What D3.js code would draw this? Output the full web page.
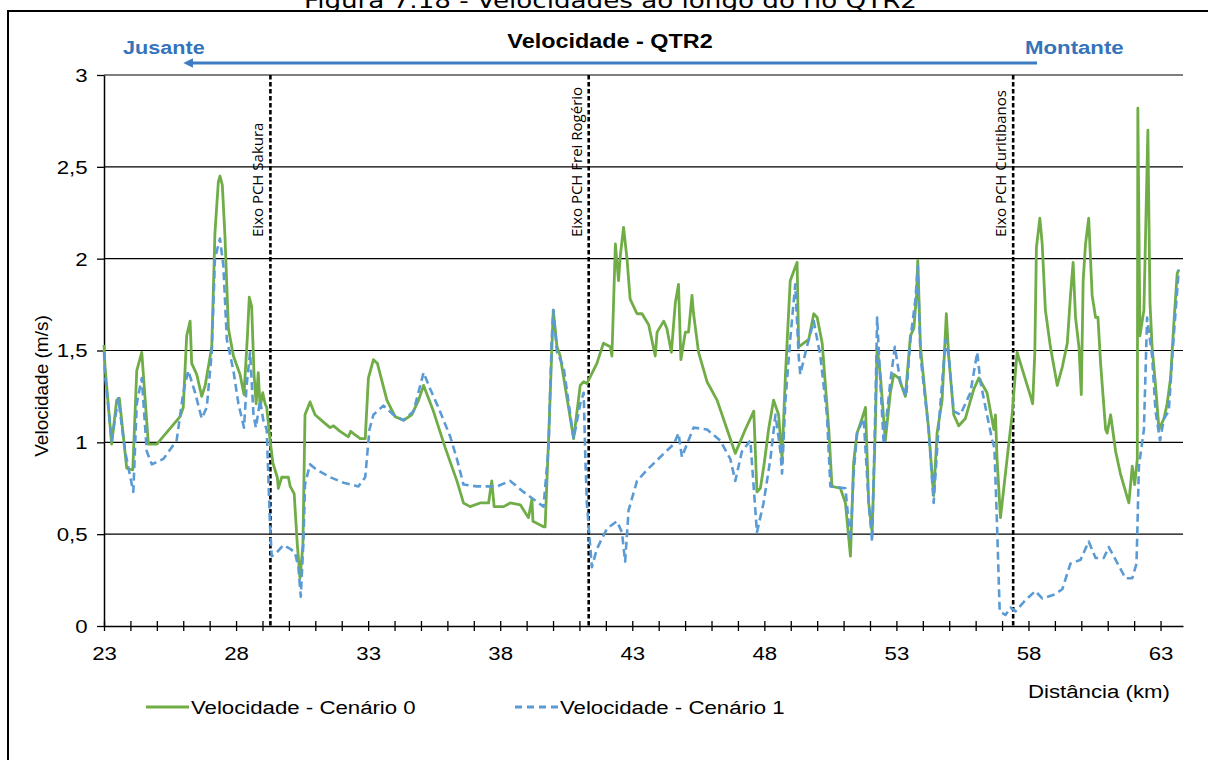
<!DOCTYPE html>
<html><head><meta charset="utf-8">
<script src="https://cdn.jsdelivr.net/npm/d3@7"></script>
<style>
html,body{margin:0;padding:0;background:#fff;}
svg{display:block;}
</style></head>
<body>
<svg id="chart" width="1208" height="760"></svg>
<script>
// ---------- data ----------
const caption = "Figura 7.18 - Velocidades ao longo do rio QTR2";
const chartTitle = "Velocidade - QTR2";
const seriesNames = ["Velocidade - Cenário 0", "Velocidade - Cenário 1"];
const yTickValues = [0, 0.5, 1, 1.5, 2, 2.5, 3];
const yTickLabels = ["0", "0,5", "1", "1,5", "2", "2,5", "3"];
const xTickValues = [23,24,25,26,27,28,29,30,31,32,33,34,35,36,37,38,39,40,41,42,43,44,45,46,47,48,49,50,51,52,53,54,55,56,57,58,59,60,61,62,63];
const xLabelValues = [23, 28, 33, 38, 43, 48, 53, 58, 63];
const damNames = ["Eixo PCH Sakura", "Eixo PCH Frei Rogério", "Eixo PCH Curitibanos"];
const damKm = [29.3, 41.35, 57.42];

const kmC0 = [23.00,23.04,23.29,23.48,23.58,23.86,24.09,24.24,24.43,24.68,25.00,25.88,26.00,26.13,26.26,26.32,26.51,26.70,26.83,27.08,27.20,27.33,27.39,27.48,27.58,27.71,27.90,28.15,28.30,28.43,28.50,28.59,28.68,28.76,28.84,28.91,29.01,29.10,29.16,29.29,29.39,29.56,29.60,29.73,29.98,30.05,30.20,30.32,30.42,30.53,30.61,30.80,30.99,31.31,31.56,31.69,31.94,32.25,32.34,32.51,32.70,32.89,33.01,33.20,33.35,33.71,34.02,34.34,34.65,34.91,35.10,35.47,35.92,36.36,36.61,36.86,37.24,37.56,37.68,37.77,38.13,38.38,38.76,39.07,39.20,39.24,39.64,39.70,39.83,39.95,40.01,40.15,40.27,40.78,41.03,41.16,41.28,41.66,41.91,42.17,42.23,42.36,42.48,42.55,42.67,42.80,42.92,43.18,43.37,43.62,43.87,43.94,44.19,44.31,44.48,44.63,44.75,44.84,45.01,45.13,45.26,45.32,45.51,45.83,46.21,46.59,46.90,47.28,47.60,47.72,47.85,48.00,48.16,48.35,48.54,48.67,48.80,48.98,49.24,49.30,49.49,49.68,49.87,50.00,50.19,50.44,50.56,50.88,51.07,51.26,51.38,51.51,51.70,51.83,51.95,52.08,52.20,52.27,52.39,52.58,52.77,52.90,53.09,53.34,53.53,53.66,53.76,53.81,53.91,54.22,54.41,54.54,54.73,54.89,54.98,55.17,55.36,55.61,55.93,56.12,56.43,56.69,56.75,56.81,56.94,57.19,57.38,57.51,57.57,57.76,58.08,58.16,58.24,58.30,58.43,58.52,58.64,58.83,59.09,59.28,59.47,59.59,59.69,59.78,59.91,60.00,60.07,60.16,60.28,60.41,60.54,60.63,60.73,60.92,60.98,61.11,61.30,61.48,61.80,61.93,62.02,62.12,62.14,62.22,62.37,62.52,62.60,62.68,62.81,62.94,63.13,63.25,63.38,63.50,63.63,63.69];
const velC0 = [1.53,1.41,0.99,1.23,1.24,0.86,0.85,1.39,1.49,0.99,0.99,1.14,1.19,1.58,1.66,1.43,1.37,1.25,1.31,1.52,2.14,2.42,2.45,2.40,2.12,1.62,1.47,1.37,1.26,1.58,1.79,1.74,1.37,1.21,1.38,1.19,1.27,1.21,1.19,1.01,0.89,0.81,0.75,0.81,0.81,0.76,0.72,0.44,0.26,0.44,1.15,1.22,1.15,1.11,1.08,1.09,1.06,1.03,1.06,1.04,1.02,1.02,1.35,1.45,1.43,1.23,1.14,1.12,1.15,1.23,1.31,1.17,0.97,0.79,0.67,0.65,0.67,0.67,0.79,0.65,0.65,0.67,0.66,0.59,0.69,0.57,0.54,0.54,1.01,1.49,1.72,1.52,1.47,1.02,1.31,1.33,1.32,1.43,1.54,1.52,1.47,2.08,1.88,2.02,2.17,2.00,1.78,1.70,1.70,1.64,1.47,1.60,1.66,1.62,1.49,1.76,1.86,1.45,1.60,1.60,1.80,1.70,1.49,1.33,1.23,1.07,0.94,1.07,1.17,0.73,0.75,0.89,1.07,1.23,1.15,0.91,1.37,1.88,1.98,1.52,1.54,1.56,1.70,1.68,1.54,1.07,0.76,0.75,0.67,0.38,0.89,1.05,1.13,1.19,0.67,0.51,1.07,1.52,1.37,1.01,1.27,1.37,1.35,1.25,1.58,1.62,1.80,1.99,1.52,1.07,0.71,1.05,1.23,1.70,1.47,1.15,1.09,1.13,1.29,1.35,1.27,1.07,1.15,0.91,0.59,0.91,1.15,1.39,1.49,1.40,1.25,1.21,1.49,2.06,2.22,2.08,1.72,1.52,1.31,1.41,1.54,1.80,1.98,1.68,1.52,1.26,1.88,2.08,2.22,1.80,1.68,1.68,1.43,1.07,1.05,1.15,0.95,0.83,0.67,0.87,0.77,0.91,2.82,1.58,1.72,2.70,1.76,1.52,1.31,1.07,1.13,1.21,1.35,1.64,1.92,1.94];

const kmC1 = [23.00,23.04,23.29,23.54,23.80,24.11,24.24,24.43,24.62,24.81,25.25,25.75,26.00,26.19,26.45,26.70,26.89,27.08,27.20,27.39,27.52,27.65,27.90,28.09,28.30,28.40,28.53,28.66,28.75,28.91,29.03,29.16,29.29,29.35,29.54,29.79,30.05,30.23,30.36,30.45,30.55,30.61,30.80,31.06,31.56,32.07,32.63,32.89,33.05,33.20,33.58,33.96,34.34,34.72,35.10,35.35,35.66,36.11,36.36,36.61,37.12,37.87,38.38,38.88,39.26,39.64,39.83,39.95,40.01,40.15,40.40,40.78,41.03,41.16,41.22,41.28,41.47,41.66,42.04,42.42,42.61,42.73,42.86,43.18,43.56,44.06,44.57,44.75,44.88,45.07,45.32,45.83,46.33,46.71,46.90,47.15,47.47,47.72,47.97,48.23,48.42,48.61,48.67,48.80,48.98,49.17,49.30,49.36,49.61,49.87,50.12,50.37,50.50,51.07,51.26,51.38,51.51,51.76,51.95,52.08,52.20,52.27,52.39,52.52,52.77,52.94,53.15,53.37,53.53,53.72,53.81,53.91,54.22,54.41,54.60,54.86,54.98,55.17,55.42,55.80,56.06,56.18,56.43,56.63,56.71,56.81,56.91,57.13,57.32,57.51,57.88,58.26,58.52,58.96,59.28,59.59,59.97,60.28,60.54,60.85,61.04,61.30,61.67,61.93,62.09,62.12,62.18,62.37,62.49,62.68,62.81,62.98,63.13,63.31,63.50,63.69];
const velC1 = [1.49,1.37,1.01,1.24,0.95,0.73,1.21,1.35,0.95,0.88,0.91,1.01,1.27,1.39,1.27,1.13,1.19,1.49,2.00,2.11,1.96,1.56,1.39,1.21,1.08,1.31,1.49,1.15,1.08,1.23,1.12,1.07,0.53,0.38,0.40,0.44,0.42,0.40,0.32,0.16,0.46,0.77,0.88,0.85,0.81,0.78,0.76,0.81,1.07,1.15,1.20,1.15,1.12,1.17,1.38,1.29,1.19,1.03,0.91,0.77,0.76,0.76,0.79,0.73,0.69,0.65,0.97,1.56,1.72,1.49,1.41,1.02,1.21,1.27,0.93,0.67,0.32,0.42,0.53,0.57,0.51,0.35,0.63,0.79,0.85,0.92,0.99,1.05,0.92,0.99,1.08,1.07,1.01,0.91,0.79,0.95,1.01,0.51,0.67,0.91,1.15,0.95,0.83,1.23,1.56,1.86,1.47,1.37,1.52,1.66,1.47,1.15,0.76,0.75,0.46,0.83,1.05,1.13,0.67,0.46,1.17,1.68,1.33,0.99,1.33,1.52,1.33,1.25,1.56,1.78,1.96,1.47,1.07,0.67,1.09,1.56,1.47,1.17,1.15,1.27,1.49,1.33,1.15,1.01,0.97,0.55,0.08,0.06,0.10,0.08,0.14,0.19,0.15,0.17,0.20,0.34,0.36,0.46,0.37,0.37,0.43,0.36,0.26,0.26,0.34,0.51,0.87,1.07,1.68,1.47,1.17,1.01,1.13,1.17,1.58,1.94];

// ---------- drawing ----------
const SX = 1.17;          // horizontal stretch of the source picture
const FONT = "'Liberation Sans', Arial, sans-serif";
const GREEN = "#70ad47", BLUE = "#5b9bd5", ARROW = "#3d7cc4";

const svg = d3.select("#chart");
const x = d3.scaleLinear().domain([23, 63.85]).range([104, 1183]);
const y = d3.scaleLinear().domain([0, 3]).range([626, 75]);

function stext(g, px, py, str, size, opts = {}) {
  const t = g.append("text")
    .attr("transform", `translate(${px},${py}) scale(${opts.sx || SX},1)`)
    .attr("font-family", opts.family || FONT)
    .attr("font-size", size)
    .attr("font-weight", opts.weight || "normal")
    .attr("fill", opts.fill || "#000")
    .attr("text-anchor", opts.anchor || "start")
    .text(str);
  return t;
}

// outer frame
svg.append("rect").attr("x", 8).attr("y", 11).attr("width", 1240).attr("height", 800)
  .attr("fill", "none").attr("stroke", "#000").attr("stroke-width", 2);

// caption (clipped at top, as in the source page)
svg.append("text").attr("x", 304).attr("y", 8)
  .attr("font-family", "'DejaVu Sans', sans-serif").attr("font-size", 22)
  .attr("textLength", 613).attr("lengthAdjust", "spacingAndGlyphs")
  .text(caption);

// chart title
stext(svg, 610, 48, chartTitle, 20, {weight: "bold", anchor: "middle"});
stext(svg, 123, 54, "Jusante", 18.5, {weight: "bold", fill: "#3573ba"});
stext(svg, 1025, 54, "Montante", 19, {weight: "bold", fill: "#3573ba"});

// arrow
const defs = svg.append("defs");
defs.append("marker").attr("id", "ah").attr("viewBox", "0 0 10 10")
  .attr("refX", 1).attr("refY", 5).attr("markerWidth", 3.2).attr("markerHeight", 3.2)
  .attr("orient", "auto-start-reverse")
  .append("path").attr("d", "M0,0 L10,5 L0,10 z").attr("fill", ARROW);
svg.append("line").attr("x1", 1037).attr("y1", 63).attr("x2", 192).attr("y2", 63)
  .attr("stroke", ARROW).attr("stroke-width", 3).attr("marker-end", "url(#ah)");

// gridlines
svg.append("g").selectAll("line").data(yTickValues.filter(v => v > 0)).join("line")
  .attr("x1", x.range()[0]).attr("x2", x.range()[1])
  .attr("y1", d => y(d)).attr("y2", d => y(d))
  .attr("stroke", "#000").attr("stroke-width", 1.2);

// y axis
const yAxis = svg.append("g").attr("transform", `translate(${x.range()[0]},0)`)
  .call(d3.axisLeft(y).tickValues(yTickValues)
    .tickFormat((d, i) => yTickLabels[i]).tickSizeInner(7).tickSizeOuter(0));
yAxis.select(".domain").attr("stroke", "#000").attr("stroke-width", 1.5);
yAxis.selectAll(".tick line").attr("stroke", "#000").attr("stroke-width", 1.3);
yAxis.selectAll(".tick text").attr("font-family", FONT).attr("font-size", 19)
  .attr("x", -14).attr("dy", "0.34em").attr("fill", "#000")
  .attr("transform", `scale(${SX},1)`);

// x axis
const xAxis = svg.append("g").attr("transform", `translate(0,${y(0)})`)
  .call(d3.axisBottom(x).tickValues(xTickValues)
    .tickFormat(d => xLabelValues.includes(d) ? String(d) : "")
    .tickSizeInner(5).tickSizeOuter(0));
xAxis.select(".domain").attr("stroke", "#000").attr("stroke-width", 1.5);
xAxis.selectAll(".tick line").attr("stroke", "#000").attr("stroke-width", 1.3)
  .attr("y1", -5).attr("y2", 5);
xAxis.selectAll(".tick text").attr("font-family", FONT).attr("font-size", 19)
  .attr("y", 34).attr("dy", 0).attr("fill", "#000")
  .attr("transform", `scale(${SX},1)`);

// axis titles
svg.append("text").attr("transform", `translate(48,386) rotate(-90)`)
  .attr("font-family", FONT).attr("font-size", 19).attr("text-anchor", "middle")
  .text("Velocidade (m/s)");
stext(svg, 1028, 698, "Distância (km)", 19);

// dam lines
const dams = svg.append("g");
damKm.forEach((k, i) => {
  dams.append("line").attr("x1", x(k)).attr("x2", x(k)).attr("y1", y(3)).attr("y2", y(0))
    .attr("stroke", "#000").attr("stroke-width", 2.6).attr("stroke-dasharray", "4.5,2.5");
  dams.append("text").attr("transform", `translate(${x(k) - 7},237) rotate(-90)`)
    .attr("font-family", "'Open Sans', sans-serif").attr("font-size", 15)
    .attr("fill", "#000").text(damNames[i]);
});

// series
const line = d3.line().x(d => x(d[0])).y(d => y(d[1]));
const s0 = kmC0.map((k, i) => [k, velC0[i]]);
const s1 = kmC1.map((k, i) => [k, velC1[i]]);
svg.append("path").datum(s0).attr("d", line).attr("fill", "none")
  .attr("stroke", GREEN).attr("stroke-width", 2.8).attr("stroke-linejoin", "round");
svg.append("path").datum(s1).attr("d", line).attr("fill", "none")
  .attr("stroke", BLUE).attr("stroke-width", 2.6).attr("stroke-dasharray", "8,4.5")
  .attr("stroke-linejoin", "round");

// legend
const lg = svg.append("g");
lg.append("line").attr("x1", 146).attr("x2", 189).attr("y1", 707).attr("y2", 707)
  .attr("stroke", GREEN).attr("stroke-width", 2.8);
stext(lg, 191, 714, seriesNames[0], 19);
lg.append("line").attr("x1", 515).attr("x2", 559).attr("y1", 707).attr("y2", 707)
  .attr("stroke", BLUE).attr("stroke-width", 2.8).attr("stroke-dasharray", "7,5");
stext(lg, 560, 714, seriesNames[1], 19);
</script>
</body></html>
